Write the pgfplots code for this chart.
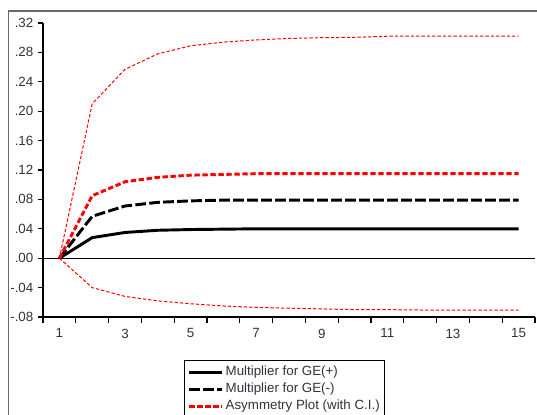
\documentclass[border=0pt]{standalone}
\usepackage{fontspec}
\setmainfont{Liberation Sans}
\usepackage{pgfplots}
\pgfplotsset{compat=1.18}
\definecolor{framegray}{RGB}{105,105,105}
\definecolor{txtgray}{RGB}{50,50,60}
\begin{document}
\begin{tikzpicture}
\useasboundingbox (0pt,0pt) rectangle (402.75pt,311.25pt);
\draw[line width=1.2pt, framegray] (6.4pt,-30pt) -- (6.4pt,303pt) -- (430pt,303pt);
\begin{axis}[
  at={(32.25pt,73.5pt)}, anchor=south west,
  scale only axis, width=369pt, height=220.5pt,
  xmin=0.5, xmax=15.5, ymin=-0.08, ymax=0.32,
  axis x line*=bottom, axis y line*=left,
  axis line style={black, line width=0.8pt},
  tick align=outside,
  xtick={1,3,...,15}, xticklabels={1,3,5,7,9,11,13,15},
  major x tick style={draw=none},
  minor xtick={0.5,1.5,...,15.5},
  minor tick length=4.5pt,
  major tick length=3.75pt,
  ytick={-0.08,-0.04,0,0.04,0.08,0.12,0.16,0.20,0.24,0.28,0.32},
  yticklabels={-.08,-.04,.00,.04,.08,.12,.16,.20,.24,.28,.32},
  tick style={black, line width=0.8pt},
  ticklabel style={font=\fontsize{10}{12}\selectfont, text=txtgray},
  xticklabel style={yshift=-1.5pt},
  clip=false,
  legend style={at={(axis description cs:0.2866,-0.1463)}, anchor=north west,
    draw=black, line width=0.8pt, inner sep=2.5pt,
    font=\fontsize{10}{12}\selectfont, text=txtgray,
    nodes={inner sep=1.4pt, text height=7.5pt, text depth=2.5pt},
    row sep=0pt},
  legend cell align=left,
  legend image code/.code={\draw[#1] (0pt,0pt) -- (24.75pt,0pt);},
]
\addplot[black, line width=0.8pt, forget plot] coordinates {(0.5,0) (15.5,0)};
\addplot[red, line width=0.75pt, dash pattern=on 2.5pt off 1.5pt, forget plot] coordinates {
(1,0) (2,0.210) (3,0.257) (4,0.278) (5,0.289) (6,0.294) (7,0.297) (8,0.299) (9,0.300) (10,0.3005) (11,0.302) (12,0.302) (13,0.302) (14,0.302) (15,0.302)};
\addplot[red, line width=0.75pt, dash pattern=on 2.5pt off 1.5pt, forget plot] coordinates {
(1,0) (2,-0.040) (3,-0.052) (4,-0.058) (5,-0.062) (6,-0.065) (7,-0.067) (8,-0.068) (9,-0.069) (10,-0.070) (11,-0.070) (12,-0.0705) (13,-0.0705) (14,-0.0705) (15,-0.0705)};
\addplot[black, line width=2.2pt] coordinates {
(1,0) (2,0.028) (3,0.035) (4,0.038) (5,0.039) (6,0.0395) (7,0.040) (8,0.040) (9,0.040) (10,0.040) (11,0.040) (12,0.040) (13,0.040) (14,0.040) (15,0.040)};
\addlegendentry{Multiplier for GE(+)}
\addplot[black, line width=2.2pt, dash pattern=on 8pt off 2.5pt] coordinates {
(1,0) (2,0.057) (3,0.071) (4,0.076) (5,0.078) (6,0.079) (7,0.079) (8,0.079) (9,0.079) (10,0.079) (11,0.079) (12,0.079) (13,0.079) (14,0.079) (15,0.079)};
\addlegendentry{Multiplier for GE(-)}
\addplot[red, line width=2.2pt, dash pattern=on 4pt off 2pt] coordinates {
(1,0) (2,0.085) (3,0.104) (4,0.110) (5,0.113) (6,0.114) (7,0.115) (8,0.115) (9,0.115) (10,0.115) (11,0.115) (12,0.115) (13,0.115) (14,0.115) (15,0.115)};
\addlegendentry{Asymmetry Plot (with C.I.)}
\end{axis}
\end{tikzpicture}
\end{document}
